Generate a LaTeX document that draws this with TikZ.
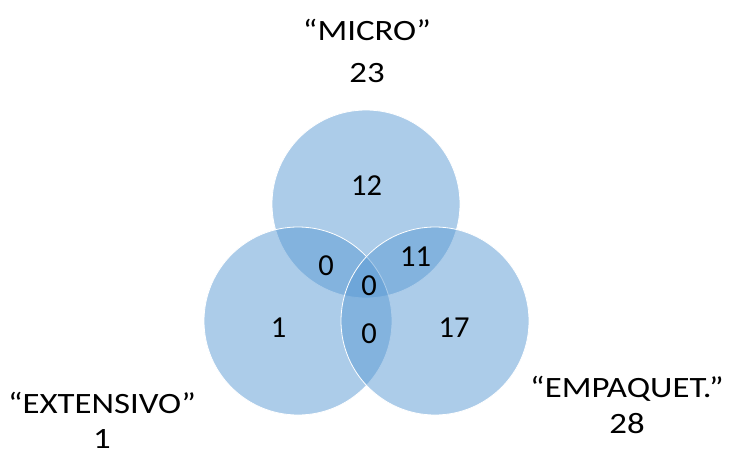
\documentclass[tikz,border=0pt]{standalone}
\usepackage{fontspec}
\setmainfont{Carlito}
\newfontfamily\widefont[FakeStretch=1.18]{Carlito}
\definecolor{vennblue}{RGB}{91,155,213}
\begin{document}
\begin{tikzpicture}[x=1pt,y=-1pt,
  setcircle/.style={fill=vennblue,fill opacity=0.5,draw=white,line width=0.8pt},
  count/.style={font=\fontsize{30.5}{34}\selectfont,inner sep=0pt,anchor=base},
  setlabel/.style={font=\widefont\fontsize{29.5}{34}\selectfont,inner sep=0pt,anchor=base}]
\useasboundingbox (0,0) rectangle (731,452);
\fill[white] (0,0) rectangle (731,452);
% the three sets
\draw[setcircle] (366,204) circle (94);
\draw[setcircle] (298,321) circle (94);
\draw[setcircle] (435,321) circle (94);
% region counts
\node[count] (onlymicro) at (366.5,195) {12};
\node[count] (microext) at (326,275) {0};
\node[count] (microemp) at (415.5,266) {11};
\node[count] (all) at (369,295) {0};
\node[count] (onlyext) at (278.5,337) {1};
\node[count] (extemp) at (369,343) {0};
\node[count] (onlyemp) at (454,337) {17};
% set names and totals
\node[setlabel] (micro) at (367,41) {“MICRO”};
\node[setlabel] (micrototal) at (367,82) {23};
\node[setlabel] (ext) at (102,413) {“EXTENSIVO”};
\node[setlabel] (exttotal) at (102,448) {1};
\node[setlabel] (emp) at (627,397) {“EMPAQUET.”};
\node[setlabel] (emptotal) at (627,433) {28};
\end{tikzpicture}
\end{document}
